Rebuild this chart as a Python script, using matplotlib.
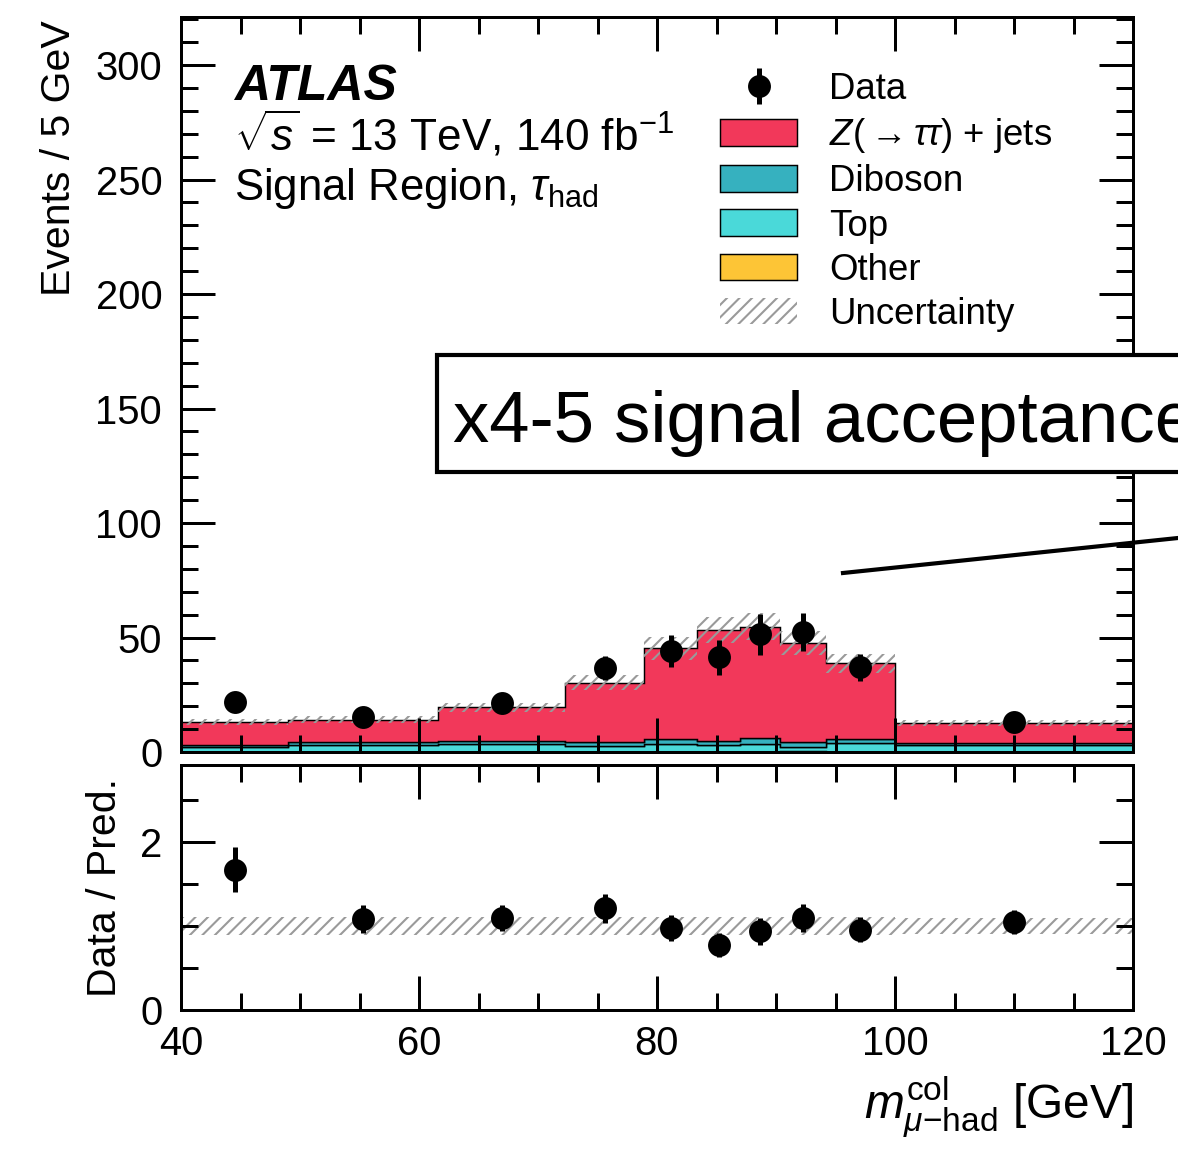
import numpy as np
import matplotlib
matplotlib.use("Agg")
import matplotlib.pyplot as plt
from matplotlib.ticker import MultipleLocator
from matplotlib.patches import Patch, Rectangle
from matplotlib.lines import Line2D

plt.rcParams['font.family'] = ['Liberation Sans', 'DejaVu Sans']
plt.rcParams['mathtext.fontset'] = 'custom'
plt.rcParams['mathtext.rm'] = 'Liberation Sans'
plt.rcParams['mathtext.it'] = 'Liberation Sans:italic'
plt.rcParams['mathtext.bf'] = 'Liberation Sans:bold'
plt.rcParams['hatch.linewidth'] = 1.0

# bin edges of m_col [GeV]
edges = np.array([40, 49, 61.6, 72.3, 78.9, 83.4, 87.0, 90.3, 94.2, 100, 120])

# stacked backgrounds (events / 5 GeV)
other = np.array([0.05, 0.05, 0.05, 0.05, 0.05, 0.05, 0.05, 0.3, 0.05, 0.05])
top = np.array([2.3, 3.1, 3.5, 2.6, 3.5, 3.1, 3.5, 2.0, 3.8, 2.9])
diboson = np.array([0.6, 1.0, 1.2, 1.5, 2.0, 1.8, 2.6, 2.2, 1.7, 0.9])
ztautau = np.array([10.2, 9.9, 14.7, 26.2, 39.8, 48.3, 48.6, 43.2, 33.2, 8.7])
rel_unc = np.array([0.11, 0.11, 0.11, 0.11, 0.11, 0.11, 0.11, 0.11, 0.11, 0.10])

data = np.array([22.0, 15.2, 21.3, 36.8, 44.1, 41.3, 51.4, 52.3, 37.0, 13.2])
data_err = np.array([3.5, 2.3, 3.1, 5.2, 7.0, 7.6, 8.9, 8.2, 5.8, 1.8])

c_z = '#f2385a'
c_dib = '#36b1bf'
c_top = '#4ad9d9'
c_oth = '#fdc536'
c_unc = '#9a9a9a'

W, H, DPI = 1178, 1154, 150
fig = plt.figure(figsize=(W / DPI, H / DPI), dpi=DPI)
ax = fig.add_axes([181 / W, 1 - 752 / H, 952 / W, 735 / H])
ax2 = fig.add_axes([181 / W, 1 - 1010 / H, 952 / W, 245 / H], sharex=ax)

centers = 0.5 * (edges[:-1] + edges[1:])

# stack
base = np.zeros_like(top)
for vals, col in [(other, c_oth), (top, c_top), (diboson, c_dib), (ztautau, c_z)]:
    ax.stairs(base + vals, edges, baseline=base.copy(), fill=True,
              facecolor=col, edgecolor='black', linewidth=0.7)
    base = base + vals
total = base

ax.stairs(total * (1 + rel_unc), edges, baseline=total * (1 - rel_unc), fill=True,
          facecolor='none', edgecolor=c_unc, hatch='////', linewidth=0)

ax.errorbar(centers, data, yerr=data_err, fmt='o', color='black', ms=10,
            elinewidth=2.4, capsize=0, zorder=5)

# ratio panel
ratio = data / total
ratio_err = data_err / total
ax2.stairs(1 + rel_unc, edges, baseline=1 - rel_unc, fill=True,
           facecolor='none', edgecolor=c_unc, hatch='////', linewidth=0)
ax2.errorbar(centers, ratio, yerr=ratio_err, fmt='o', color='black', ms=10,
             elinewidth=2.4, capsize=0, zorder=5)

ax.set_xlim(40, 120)
ax.set_ylim(0, 321)
ax2.set_ylim(0, 2.92)

for a in (ax, ax2):
    a.xaxis.set_major_locator(MultipleLocator(20))
    a.xaxis.set_minor_locator(MultipleLocator(5))
    a.tick_params(which='both', direction='in', top=True, right=True, width=1.44,
                  labelsize=19.2)
    a.tick_params(which='major', length=16.3)
    a.tick_params(which='minor', length=8.2)
    a.tick_params(axis='y', pad=9)
    a.tick_params(axis='x', pad=7)
    for s in a.spines.values():
        s.set_linewidth(1.44)
ax.yaxis.set_major_locator(MultipleLocator(50))
ax.yaxis.set_minor_locator(MultipleLocator(10))
ax2.yaxis.set_major_locator(MultipleLocator(2))
ax2.yaxis.set_minor_locator(MultipleLocator(0.5))
ax.tick_params(labelbottom=False)

ax.set_ylabel('Events / 5 GeV', fontsize=19.7, ha='right')
ax.yaxis.set_label_coords(-0.108, 0.996)
ax2.set_ylabel('Data / Pred.', fontsize=19.7, ha='center')
ax2.yaxis.set_label_coords(-0.060, 0.5)
ax2.set_xlabel(r'$m^{\mathrm{col}}_{\mu\mathrm{-had}}$ [GeV]', fontsize=23, ha='right')
ax2.xaxis.set_label_coords(1.0, -0.265)

# labels
fig.text(234 / W, 1 - 100 / H, 'ATLAS', fontsize=24, fontweight='bold',
         fontstyle='italic', va='baseline')
fig.text(234 / W, 1 - 150 / H, r'$\sqrt{s}$ = 13 TeV, 140 fb$^{-1}$', fontsize=21.2,
         va='baseline')
fig.text(234 / W, 1 - 200 / H, r'Signal Region, $\tau_{\mathrm{had}}$', fontsize=21,
         va='baseline')

handles = [
    ax.errorbar([], [], yerr=[], fmt='o', color='black', ms=10, elinewidth=2.4, capsize=0),
    Patch(facecolor=c_z, edgecolor='black', linewidth=0.7),
    Patch(facecolor=c_dib, edgecolor='black', linewidth=0.7),
    Patch(facecolor=c_top, edgecolor='black', linewidth=0.7),
    Patch(facecolor=c_oth, edgecolor='black', linewidth=0.7),
    Patch(facecolor='none', edgecolor=c_unc, hatch='////', linewidth=0),
]
labels = ['Data', r'$Z(\rightarrow\tau\tau)$ + jets', 'Diboson', 'Top', 'Other', 'Uncertainty']
ax.legend(handles, labels, loc='upper left', bbox_to_anchor=((720 - 181) / 952, (752 - 72) / 735),
          frameon=False, fontsize=17.6, borderpad=0, borderaxespad=0, handlelength=2.1,
          handleheight=0.74, handletextpad=0.87, labelspacing=0.25)

# callout box
fig.patches.append(Rectangle((437 / W, 1 - 472 / H), 800 / W, 117 / H,
                             transform=fig.transFigure, facecolor='white',
                             edgecolor='black', linewidth=2.0, zorder=10))
fig.text(453 / W, 1 - 442 / H, 'x4-5 signal acceptance', fontsize=34.8,
         va='baseline', zorder=11)
fig.lines.append(Line2D([843 / W, 1178 / W], [1 - 573 / H, 1 - 538 / H],
                        transform=fig.transFigure, color='black', linewidth=2.0, zorder=10))

fig.savefig('out.png', dpi=DPI)
